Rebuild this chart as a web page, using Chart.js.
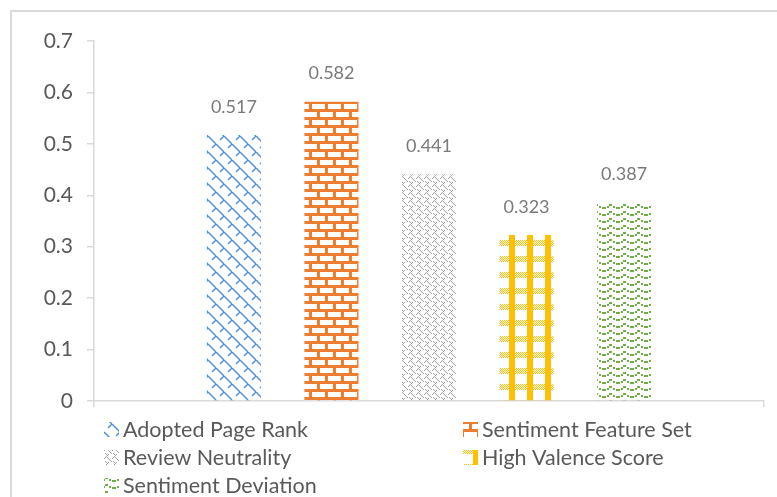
<!DOCTYPE html>
<html>
<head>
<meta charset="utf-8">
<script src="https://cdn.jsdelivr.net/npm/chart.js@4.4.0/dist/chart.umd.min.js"></script>
<style>
  html, body { margin: 0; padding: 0; background: #fff; }
  #contenedor { position: relative; width: 777px; height: 497px; overflow: hidden; }
  #marco { position: absolute; left: 10px; top: 10px; width: 800px; height: 520px; border: 2px solid #d9d9d9; }
  #grafica { position: absolute; left: 0; top: 0; }
</style>
</head>
<body>
<div id="contenedor">
  <div id="marco"></div>
  <canvas id="grafica" width="777" height="497"></canvas>
</div>
<script>
const categorias = ['Resultado'];
const series = ['Adopted Page Rank', 'Sentiment Feature Set', 'Review Neutrality', 'High Valence Score', 'Sentiment Deviation'];
const valores = [0.517, 0.582, 0.441, 0.323, 0.387];
const colores = ['#4f92d8', '#ed7d31', '#a5a5a5', '#ffc000', '#70ad47'];
const ticksY = [0, 0.1, 0.2, 0.3, 0.4, 0.5, 0.6, 0.7];

// tramas tipo Excel para cada serie
function trama(tipo, color){
  const c = document.createElement('canvas');
  const g = c.getContext('2d');
  g.strokeStyle = color;
  g.fillStyle = color;
  if(tipo === 0){
    // zigzag diagonal
    c.width = 16; c.height = 16;
    g.strokeStyle = color;
    g.lineWidth = 1.5;
    g.beginPath();
    g.moveTo(8, 0); g.lineTo(16, 8);
    g.moveTo(0, 8); g.lineTo(8, 16);
    g.moveTo(4, 4); g.lineTo(8, 0);
    g.moveTo(12, 12); g.lineTo(16, 8);
    g.stroke();
  } else if(tipo === 1){
    // ladrillos
    c.width = 16; c.height = 16;
    g.fillStyle = color;
    g.fillRect(0, 0, 16, 16);
    g.fillStyle = '#fff';
    g.fillRect(0, 0, 13, 5);
    g.fillRect(-8, 8, 13, 5);
    g.fillRect(8, 8, 13, 5);
  } else if(tipo === 2){
    // tejido
    c.width = 8; c.height = 8;
    g.fillStyle = color;
    const pts = [[0,2],[1,1],[2,0],[3,1],[4,2],[5,3],[6,4],[7,5],[4,6],[3,7],[2,6],[1,5]];
    pts.forEach(p => g.fillRect(p[0], p[1], 1, 1));
  } else if(tipo === 3){
    // columnas con franjas a cuadros
    c.width = 18; c.height = 16;
    g.fillStyle = color;
    g.fillRect(5, 0, 6, 16);
    for(let y = 0; y < 6; y++){
      for(let x = 0; x < 18; x++){
        if((x + y) % 2 === 0) g.fillRect(x, y, 1, 1);
      }
    }
  } else {
    // ondas discontinuas
    c.width = 14; c.height = 7;
    g.fillStyle = color;
    g.fillRect(0, 4, 4, 2);
    g.fillRect(5, 3, 2, 2);
    g.fillRect(7, 1, 3, 2);
    g.fillRect(11, 3, 2, 2);
  }
  return c.getContext('2d').createPattern(c, 'repeat');
}

const ctx = document.getElementById('grafica');
const patrones = colores.map((col, i) => trama(i, col));

// etiquetas de valor encima de cada barra
const etiquetas = {
  id: 'etiquetas',
  afterDatasetsDraw(chart){
    const g = chart.ctx;
    g.save();
    g.font = '18px Lato';
    g.fillStyle = '#7a7a7a';
    g.textAlign = 'center';
    g.textBaseline = 'middle';
    chart.data.datasets.forEach((ds, i) => {
      const barra = chart.getDatasetMeta(i).data[0];
      g.fillText(ds.data[0].toFixed(3), barra.x, barra.y - 28);
    });
    g.restore();
  }
};

// leyenda en dos columnas bajo el eje
const leyenda = {
  id: 'leyenda',
  afterDraw(chart){
    const g = chart.ctx;
    const columnas = [104, 463];
    g.save();
    g.font = '21.5px Lato';
    g.textBaseline = 'middle';
    chart.data.datasets.forEach((ds, i) => {
      const x = columnas[i % 2];
      const y = 422 + Math.floor(i / 2) * 28;
      g.fillStyle = ds.backgroundColor;
      g.fillRect(x, y, 15, 15);
      g.fillStyle = '#595959';
      g.fillText(ds.label, x + 19, y + 8);
    });
    g.restore();
  }
};

new Chart(ctx, {
  type: 'bar',
  data: {
    labels: categorias,
    datasets: series.map((nombre, i) => ({
      label: nombre,
      data: [valores[i]],
      backgroundColor: patrones[i],
      borderWidth: 0,
      categoryPercentage: 0.728,
      barPercentage: 0.554
    }))
  },
  options: {
    responsive: false,
    animation: false,
    layout: { padding: { left: 0, top: 41, right: 13, bottom: 0 } },
    plugins: {
      legend: { display: false },
      tooltip: { enabled: false }
    },
    scales: {
      x: {
        afterFit: scale => { scale.height = 96; },
        grid: { drawOnChartArea: false, color: '#d9d9d9', tickLength: 6, lineWidth: 1.5 },
        border: { color: '#d9d9d9', width: 1.5 },
        ticks: { display: false }
      },
      y: {
        min: 0,
        max: 0.7,
        afterFit: scale => { scale.width = 94; },
        afterBuildTicks: scale => { scale.ticks = ticksY.map(v => ({ value: v })); },
        grid: { drawOnChartArea: false, color: '#d9d9d9', tickLength: 7, lineWidth: 1.5 },
        border: { color: '#d9d9d9', width: 1.5 },
        ticks: {
          color: '#595959',
          padding: 14,
          font: { family: 'Lato', size: 21 },
          callback: v => String(Math.round(v * 10) / 10)
        }
      }
    }
  },
  plugins: [etiquetas, leyenda]
});
</script>
</body>
</html>
